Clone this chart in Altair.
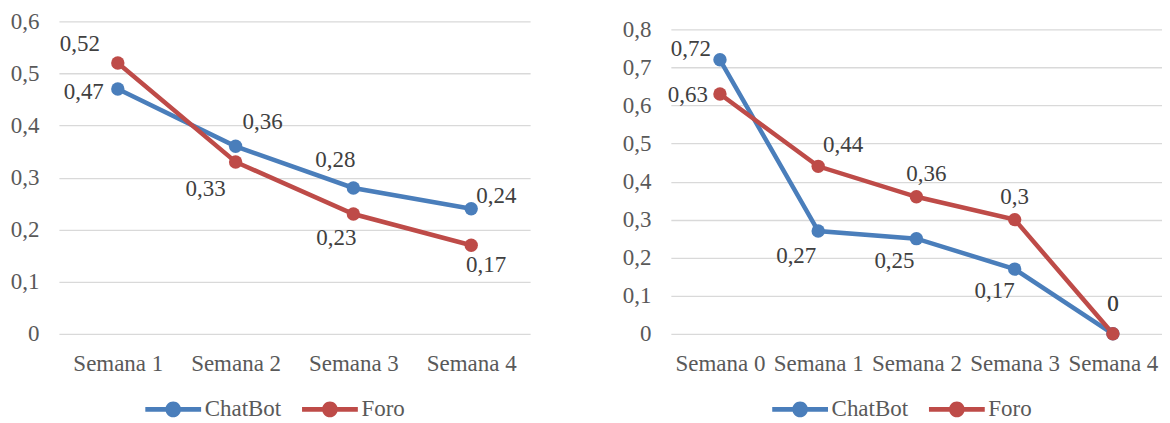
import altair as alt
import pandas as pd

# ---- data ----
series = ["ChatBot", "Foro"]

left_weeks = ["Semana 1", "Semana 2", "Semana 3", "Semana 4"]
left_chatbot = [0.47, 0.36, 0.28, 0.24]
left_foro = [0.52, 0.33, 0.23, 0.17]

right_weeks = ["Semana 0", "Semana 1", "Semana 2", "Semana 3", "Semana 4"]
right_chatbot = [0.72, 0.27, 0.25, 0.17, 0]
right_foro = [0.63, 0.44, 0.36, 0.3, 0]

left_ticks = [0, 0.1, 0.2, 0.3, 0.4, 0.5, 0.6]
right_ticks = [0, 0.1, 0.2, 0.3, 0.4, 0.5, 0.6, 0.7, 0.8]

# ---- style: label placement (align, dx, dy) per point ----
left_chatbot_lab = [("right", -14, 3), ("center", 27, -24), ("center", -18, -28), ("left", 5, -13)]
left_foro_lab = [("center", -38, -19), ("center", -30, 27), ("center", -17, 24), ("center", 15, 20)]
right_chatbot_lab = [("right", -9, -11), ("center", -22, 25), ("center", -22, 22), ("center", -20, 22), ("center", 0, -30)]
right_foro_lab = [("right", -12, 1), ("center", 25, -21), ("center", 10, -23), ("center", 0, -23), ("center", 0, -30)]

BLUE = "#4A7EBB"
RED = "#BE4B48"
FONT = "Liberation Serif"
AXIS_GREY = "#595959"
LABEL_GREY = "#404040"

# legend symbol: line with a dot (drawn wider than its layout box)
LEGEND_PATH = ("M-2.07,-0.18 L2.07,-0.18 L2.07,0.18 L-2.07,0.18 Z "
               "M-0.58,0 A0.58,0.58 0 1,1 0.58,0 A0.58,0.58 0 1,1 -0.58,0 Z")


def fmt(v):
    return f"{v:g}".replace(".", ",")


def panel(weeks, chat, foro, ticks, chat_lab, foro_lab, width, height, top_gap,
          legend_x, legend_y):
    rows = []
    labs = []
    i = 0
    for s, vals, lab in (("ChatBot", chat, chat_lab), ("Foro", foro, foro_lab)):
        for w, v, l in zip(weeks, vals, lab):
            rows.append({"i": i, "semana": w, "serie": s, "valor": v, "texto": fmt(v)})
            labs.append(l)
            i += 1
    df = pd.DataFrame(rows)

    x = alt.X("semana:N", sort=weeks, scale=alt.Scale(type="point", padding=0.5),
              axis=alt.Axis(title=None, domain=False, ticks=False, grid=False,
                            labelAngle=0, labelPadding=19))
    y = alt.Y("valor:Q",
              scale=alt.Scale(domain=[ticks[0], ticks[-1]], nice=False,
                              range=[height, top_gap]),
              axis=alt.Axis(title=None, values=ticks, domain=False, ticks=False,
                            grid=True, labelPadding=20,
                            labelExpr="datum.value == 0 ? '0' : replace(format(datum.value, '.1f'), '.', ',')"))
    color_scale = alt.Scale(domain=series, range=[BLUE, RED])
    legend = alt.Legend(title=None, orient="none", direction="horizontal",
                        legendX=legend_x, legendY=legend_y,
                        symbolType=LEGEND_PATH, symbolSize=729,
                        symbolStrokeWidth=0, symbolOpacity=1,
                        labelFont=FONT, labelFontSize=23,
                        labelColor=AXIS_GREY, labelOffset=18,
                        columnPadding=20)
    color = alt.Color("serie:N", scale=color_scale, legend=legend)

    base = alt.Chart(df).encode(x=x, y=y)
    lines = base.mark_line(strokeWidth=4.5).encode(color=color)
    points = base.mark_point(filled=True, size=180, opacity=1).encode(color=color)
    layers = [lines, points]
    for k, (al, dx, dy) in enumerate(labs):
        layers.append(
            base.transform_filter(alt.datum.i == k)
            .mark_text(align=al, baseline="middle", dx=dx, dy=dy, font=FONT,
                       fontSize=23, color=LABEL_GREY)
            .encode(text="texto:N")
        )
    return alt.layer(*layers).properties(width=width, height=height)


left = panel(left_weeks, left_chatbot, left_foro, left_ticks,
             left_chatbot_lab, left_foro_lab, 472, 313, 0, 101, 375)
right = panel(right_weeks, right_chatbot, right_foro, right_ticks,
              right_chatbot_lab, right_foro_lab, 492, 313, 8, 116, 375)

chart = (
    alt.hconcat(left, right, spacing=92)
    .resolve_scale(color="independent")
    .resolve_legend(color="independent")
    .properties(padding={"left": 2, "top": 2, "right": 0, "bottom": 0})
    .configure_view(stroke=None)
    .configure_axis(labelFont=FONT, labelFontSize=23, labelColor=AXIS_GREY,
                    gridColor="#D9D9D9", gridWidth=1.3)
)

chart.save("out.html", embed_options={"renderer": "svg", "actions": False})
